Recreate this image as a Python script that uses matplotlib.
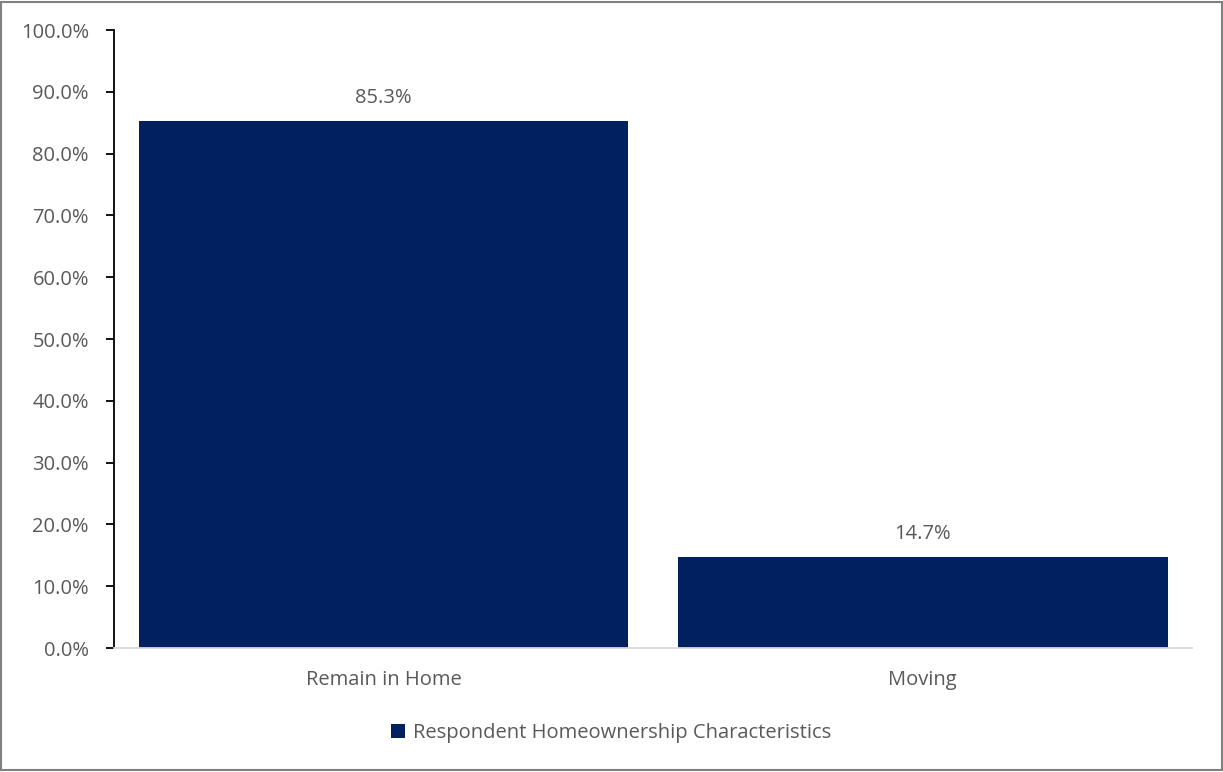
import matplotlib.pyplot as plt
import matplotlib.patches as patches

categories = ["Remain in Home", "Moving"]
values = [85.3, 14.7]
series_name = "Respondent Homeownership Characteristics"
yticks = [0, 10, 20, 30, 40, 50, 60, 70, 80, 90, 100]

navy = "#002060"
grey = "#595959"

plt.rcParams['font.family'] = ['Open Sans', 'DejaVu Sans']
fs = 14.5

fig = plt.figure(figsize=(12.23, 7.72), dpi=100)
ax = fig.add_axes([0.0932, 0.1606, 0.8815, 0.8005])

x = range(len(categories))
bars = ax.bar(x, values, width=0.909, color=navy, label=series_name, zorder=2)
for b, v in zip(bars, values):
    ax.text(b.get_x() + b.get_width() / 2, v + 3.7, f"{v:.1f}%", ha="center", va="center",
            fontsize=fs, color=grey)

ax.set_xlim(-0.5, 1.5)
ax.set_ylim(0, 100)
ax.set_yticks(yticks)
ax.set_yticklabels([f"{t:.1f}%" for t in yticks], fontsize=fs, color=grey)
ax.set_xticks(list(x))
ax.set_xticklabels(categories, fontsize=fs, color=grey)
ax.tick_params(axis="x", length=0, pad=16)
ax.tick_params(axis="y", length=6, width=1.3, color="black", pad=12, direction="out")

for s in ["top", "right"]:
    ax.spines[s].set_visible(False)
ax.spines["left"].set_color("black")
ax.spines["left"].set_linewidth(1.3)
ax.spines["bottom"].set_color("#d9d9d9")
ax.spines["bottom"].set_linewidth(1.3)

fig.legend(handles=[bars], labels=[series_name], loc="center", bbox_to_anchor=(0.5, 0.051),
           frameon=False, fontsize=fs, labelcolor=grey, handlelength=0.7, handleheight=0.7,
           handletextpad=0.4)

fig.patches.append(patches.Rectangle((0.001, 0.002), 0.998, 0.996, transform=fig.transFigure,
                                     fill=False, edgecolor="#808080", linewidth=1.5))

fig.savefig("out.png", dpi=100)
